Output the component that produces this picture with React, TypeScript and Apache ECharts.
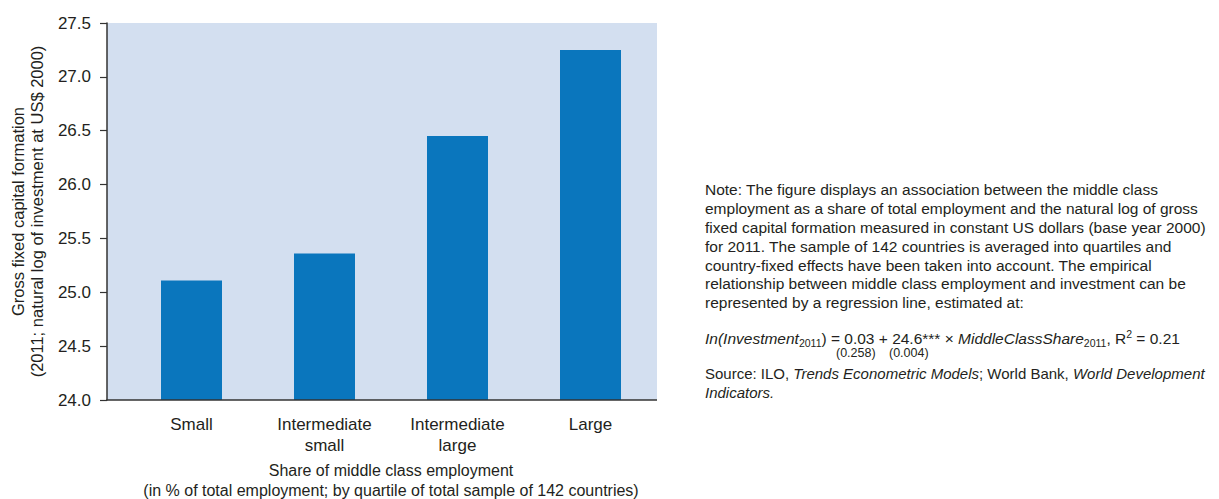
import React, { useEffect, useRef } from "react";
import * as echarts from "echarts";

const categories = ["Small", "Intermediate\nsmall", "Intermediate\nlarge", "Large"];
const values = [25.11, 25.36, 26.45, 27.25];
const yMin = 24;
const yMax = 27.5;
const yStep = 0.5;

const yAxisName = "Gross fixed capital formation\n(2011; natural log of investment at US$ 2000)";
const xAxisName = "Share of middle class employment\n(in % of total employment; by quartile of total sample of 142 countries)";

const noteLines = [
  "Note: The figure displays an association between the middle class",
  "employment as a share of total employment and the natural log of gross",
  "fixed capital formation measured in constant US dollars (base year 2000)",
  "for 2011. The sample of 142 countries is averaged into quartiles and",
  "country-fixed effects have been taken into account. The empirical",
  "relationship between middle class employment and investment can be",
  "represented by a regression line, estimated at:",
];
const formulaRich =
  "{i|In(Investment}{s|2011}{n|) = 0.03 + 24.6*** × }{i|MiddleClassShare}{s|2011}{n|, R}{p|2}{n| = 0.21}";
const stdErrors = ["(0.258)", "(0.004)"];
const sourceRich =
  "{n|Source: ILO, }{i|Trends Econometric Models}{n|; World Bank, }{i|World Development}\n{i|Indicators.}";

const FONT = "'Liberation Sans', Arial, sans-serif";
const TEXT = "#231f20";
const AXIS = "#333333";

// layout
const PLOT_L = 107;
const PLOT_R = 657;
const PLOT_T = 23;
const PLOT_B = 400;
const CAT_L = 125;

export default function App() {
  const ref = useRef<HTMLDivElement>(null);
  useEffect(() => {
    if (!ref.current) return;
    const chart = echarts.init(ref.current, undefined, { renderer: "svg" });
    const noteSize = 15.5;
    const srcSize = 15;
    chart.setOption({
      animation: false,
      textStyle: { fontFamily: FONT, color: TEXT },
      grid: {
        left: CAT_L,
        right: 1219 - PLOT_R,
        top: PLOT_T,
        bottom: 499 - PLOT_B,
        show: false,
        containLabel: false,
        outerBoundsMode: "none",
      },
      xAxis: {
        type: "category",
        data: categories,
        axisLine: { show: false },
        axisTick: { show: false },
        axisLabel: { fontSize: 17, color: TEXT, margin: 14, lineHeight: 21, fontFamily: FONT },
        name: xAxisName,
        nameLocation: "middle",
        nameGap: 56,
        nameTextStyle: { fontSize: 16, color: TEXT, lineHeight: 19.5, fontFamily: FONT },
      },
      yAxis: {
        type: "value",
        min: yMin,
        max: yMax,
        interval: yStep,
        offset: CAT_L - PLOT_L,
        axisLine: { show: true, lineStyle: { color: AXIS, width: 1.5 } },
        axisTick: { show: true, length: 7, lineStyle: { color: AXIS, width: 1.2 } },
        splitLine: { show: false },
        axisLabel: {
          fontSize: 17,
          color: TEXT,
          margin: 16,
          fontFamily: FONT,
          formatter: (v: number) => v.toFixed(1),
        },
        name: yAxisName,
        nameLocation: "middle",
        nameGap: 61,
        nameRotate: 90,
        nameTextStyle: { fontSize: 16.5, color: TEXT, lineHeight: 19, fontFamily: FONT },
      },
      series: [
        {
          type: "bar",
          data: values,
          barWidth: 61,
          itemStyle: { color: "#0a76bd" },
        },
      ],
      graphic: [
        {
          type: "rect",
          z: -10,
          silent: true,
          shape: { x: PLOT_L, y: PLOT_T, width: PLOT_R - PLOT_L, height: PLOT_B - PLOT_T },
          style: { fill: "#d3dff0" },
        },
        {
          type: "line",
          z: 10,
          silent: true,
          shape: { x1: PLOT_L - 0.75, y1: PLOT_B, x2: PLOT_R, y2: PLOT_B },
          style: { stroke: AXIS, lineWidth: 1.5 },
        },
        {
          type: "text",
          left: 705,
          top: 180.6,
          style: {
            text: noteLines.join("\n"),
            fontSize: noteSize,
            fontFamily: FONT,
            fill: TEXT,
            lineHeight: 18.8,
          },
        },
        {
          type: "text",
          left: 705,
          top: 328,
          style: {
            text: formulaRich,
            fontSize: noteSize,
            fontFamily: FONT,
            fill: TEXT,
            rich: {
              n: { fontSize: noteSize, fontFamily: FONT, fill: TEXT, lineHeight: 20 },
              i: { fontSize: noteSize, fontFamily: FONT, fill: TEXT, fontStyle: "italic", lineHeight: 20 },
              s: { fontSize: 10.5, fontFamily: FONT, fill: TEXT, verticalAlign: "bottom", lineHeight: 20 },
              p: { fontSize: 10.5, fontFamily: FONT, fill: TEXT, verticalAlign: "top", lineHeight: 20 },
            },
          },
        },
        {
          type: "text",
          left: 836,
          top: 346,
          style: { text: stdErrors[0], fontSize: 12.5, fontFamily: FONT, fill: TEXT },
        },
        {
          type: "text",
          left: 889,
          top: 346,
          style: { text: stdErrors[1], fontSize: 12.5, fontFamily: FONT, fill: TEXT },
        },
        {
          type: "text",
          left: 705,
          top: 366,
          style: {
            text: sourceRich,
            fontSize: srcSize,
            fontFamily: FONT,
            fill: TEXT,
            rich: {
              n: { fontSize: srcSize, fontFamily: FONT, fill: TEXT, lineHeight: 18.5 },
              i: { fontSize: srcSize, fontFamily: FONT, fill: TEXT, fontStyle: "italic", lineHeight: 18.5 },
            },
          },
        },
      ],
    });
    return () => chart.dispose();
  }, []);
  return (
    <div
      ref={ref}
      style={{ position: "fixed", left: 0, top: 0, width: 1219, height: 499, background: "#fff" }}
    />
  );
}
